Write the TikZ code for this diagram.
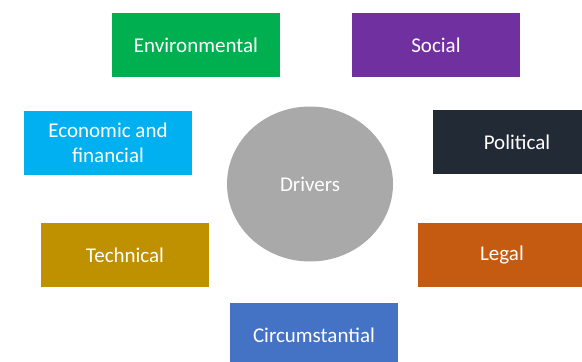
\documentclass[tikz,border=0pt]{standalone}
\usepackage{fontspec}
\setmainfont{Carlito}
\usetikzlibrary{shapes.geometric}
\definecolor{envgreen}{HTML}{00B050}
\definecolor{socpurple}{HTML}{7030A0}
\definecolor{ecoblue}{HTML}{00B0F0}
\definecolor{polslate}{HTML}{222A35}
\definecolor{techgold}{HTML}{BF9000}
\definecolor{legorange}{HTML}{C55A11}
\definecolor{circblue}{HTML}{4472C4}
\definecolor{drivegray}{HTML}{A9A9A9}
\begin{document}
\begin{tikzpicture}
[x=1pt,y=-1pt,
  boxdecorate/.style={shape=rectangle,minimum width=168pt,minimum height=64pt,
    inner sep=0pt,text=white,align=center,font=\fontsize{21}{25}\selectfont},
  hubdecorate/.style={shape=ellipse,minimum width=166pt,minimum height=155pt,
    inner sep=0pt,fill=drivegray,text=white,font=\fontsize{21}{25}\selectfont}]
\useasboundingbox (0,0) rectangle (582,362);
\clip (0,0) rectangle (582,362);
%% hub
\node (drivers) at (310,184) [hubdecorate] {Drivers};
%% boxes around the hub
\foreach \nodename/\x/\y/\shade/\label in {env/196/45/envgreen/Environmental,
  soc/436/45/socpurple/Social, eco/108/143/ecoblue/{Economic and\\financial},
  pol/517/142/polslate/Political, tech/125/255/techgold/Technical,
  leg/502/255/legorange/Legal, circ/314/335/circblue/Circumstantial} {
  \node (\nodename) at (\x,\y) [boxdecorate,fill=\shade] {\label};
}
\end{tikzpicture}
\end{document}
